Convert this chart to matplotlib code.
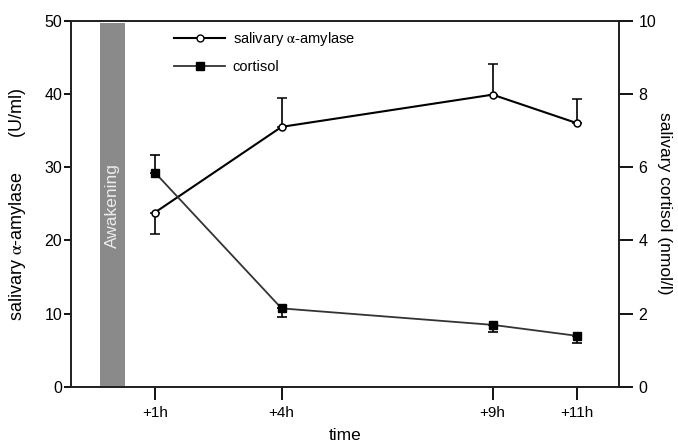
import matplotlib
matplotlib.use("Agg")
import matplotlib.pyplot as plt
from matplotlib.lines import Line2D

plt.rcParams['font.family'] = ['Liberation Sans', 'DejaVu Sans']
plt.rcParams['mathtext.fontset'] = 'stix'

time_h = [1, 4, 9, 11]
time_labels = ['+1h', '+4h', '+9h', '+11h']
amylase = [23.8, 35.5, 39.9, 36.0]
amylase_err_lo = [3.0, 0, 0, 0]
amylase_err_hi = [0, 4.0, 4.2, 3.3]
cortisol = [5.85, 2.14, 1.69, 1.39]
cortisol_err_lo = [0, 0.23, 0.19, 0.19]
cortisol_err_hi = [0.49, 0, 0, 0]
awakening_x = 0
awakening_width = 0.6

fig = plt.figure(figsize=(6.78, 4.41), dpi=100)
ax = fig.add_axes([0.104, 0.1231, 0.8094, 0.8299])
ax2 = ax.twinx()

ax.bar(awakening_x, 49.7, width=awakening_width, color='#8a8a8a', zorder=1)
ax.text(awakening_x, 24.8, 'Awakening', rotation=90, ha='center', va='center',
        color='#ececec', fontsize=12.5, zorder=2)

ax.errorbar(time_h, amylase, yerr=[amylase_err_lo, amylase_err_hi], color='black',
            lw=1.5, marker='o', ms=5, mfc='white', mec='black', mew=1.1,
            capsize=3.5, elinewidth=1.2, capthick=1.2, zorder=4)
ax2.errorbar(time_h, cortisol, yerr=[cortisol_err_lo, cortisol_err_hi], color='#333333',
             lw=1.3, marker='s', ms=5.5, mfc='black', mec='black',
             capsize=3.5, elinewidth=1.2, capthick=1.2, ecolor='black', zorder=4)

ax.set_xlim(-1, 12)
ax.set_ylim(0, 50)
ax2.set_ylim(0, 10)
ax.set_xticks(time_h)
ax.set_xticklabels(time_labels, fontsize=11)
ax.set_yticks([0, 10, 20, 30, 40, 50])
ax2.set_yticks([0, 2, 4, 6, 8, 10])
ax.tick_params(axis='y', labelsize=11.5, length=5, width=1.3, pad=1)
ax.tick_params(axis='x', length=9, width=1.3, pad=5)
ax2.tick_params(axis='y', labelsize=11.5, length=10, width=1.3, pad=4)
for a in (ax, ax2):
    for s in a.spines.values():
        s.set_linewidth(1.3)
        s.set_color('#222222')

ax.set_xlabel('time', fontsize=12.5, va='center')
ax.xaxis.set_label_coords(0.5, -0.132)
ax.set_ylabel(r'salivary $\mathrm{\alpha}$-amylase       (U/ml)', fontsize=13, va='center')
ax.yaxis.set_label_coords(-0.096, 0.5)
ax2.set_ylabel('salivary cortisol (nmol/l)', fontsize=12.5, rotation=270, va='center')
ax2.yaxis.set_label_coords(1.083, 0.5)

handles = [
    Line2D([], [], color='black', lw=1.5, marker='o', ms=5, mfc='white', mec='black'),
    Line2D([], [], color='#333333', lw=1.3, marker='s', ms=5.5, mfc='black', mec='black'),
]
ax.legend(handles, [r'salivary $\mathrm{\alpha}$-amylase', 'cortisol'], loc='upper left',
          bbox_to_anchor=(0.165, 1.01), frameon=False, fontsize=10.5,
          handlelength=3.5, handletextpad=0.5, labelspacing=0.8)

fig.savefig('out.png', dpi=100)
